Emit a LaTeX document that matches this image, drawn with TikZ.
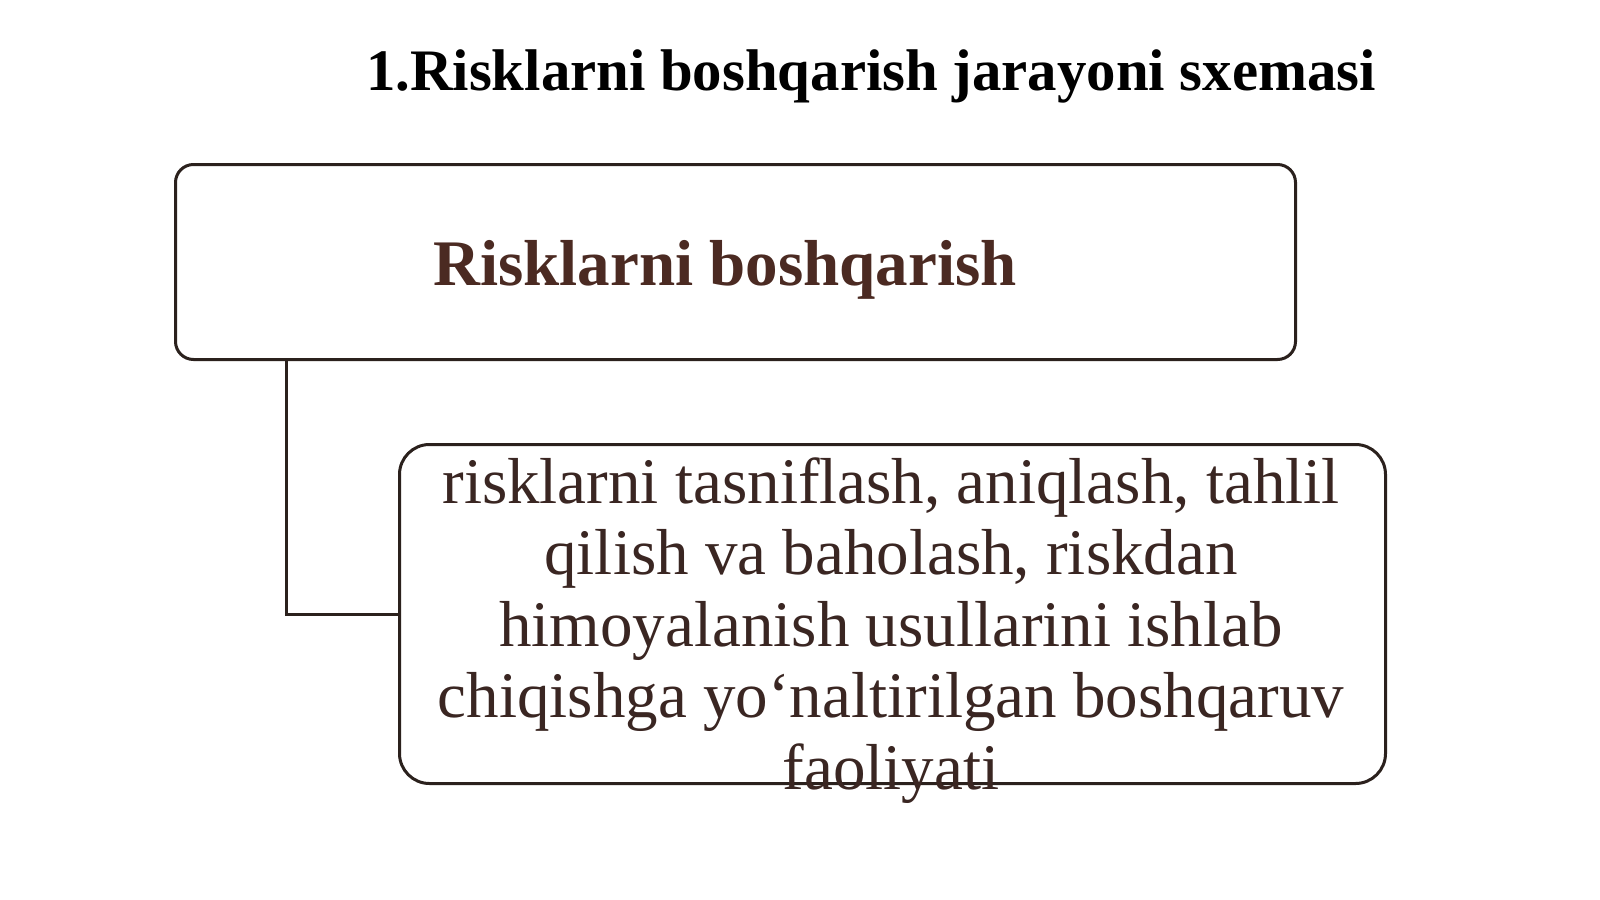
\documentclass[tikz,border=0pt]{standalone}
\usepackage{fontspec}
\setmainfont{Liberation Serif}
\definecolor{boxline}{HTML}{2B211D}
\definecolor{headtxt}{HTML}{4B2A22}
\definecolor{bodytxt}{HTML}{3A2622}
\begin{document}
\begin{tikzpicture}[x=1pt,y=-1pt,
  box/.style={draw=boxline,line width=3pt,fill=white},
  conn/.style={draw=boxline,line width=3pt}]
\useasboundingbox[fill=white] (0,0) rectangle (1600,899);
\node[anchor=base,inner sep=0,font=\fontsize{58.8}{64}\selectfont\bfseries] (title) at (871,90) {1.Risklarni boshqarish jarayoni sxemasi};
\node[box,rounded corners=18pt,inner sep=0,minimum width=1120pt,minimum height=195pt,anchor=north west] (top) at (174,163) {};
\node[anchor=base,inner sep=0,text=headtxt,font=\fontsize{65}{72}\selectfont\bfseries] (head) at (725,285) {Risklarni boshqarish};
\node[box,rounded corners=30pt,inner sep=0,minimum width=986pt,minimum height=339pt,anchor=north west] (sub) at (398,443) {};
\node[anchor=north,inner sep=0,align=center,text=bodytxt,font=\fontsize{65}{71.5}\selectfont] (subtext) at (891,453) {\rule{0pt}{50pt}risklarni tasniflash, aniqlash, tahlil\\qilish va baholash, riskdan\\himoyalanish usullarini ishlab\\chiqishga yo‘naltirilgan boshqaruv\\faoliyati};
\coordinate (c1) at ([xshift=112pt]top.south west);
\draw[conn] (c1) |- (sub.west);
\end{tikzpicture}
\end{document}
